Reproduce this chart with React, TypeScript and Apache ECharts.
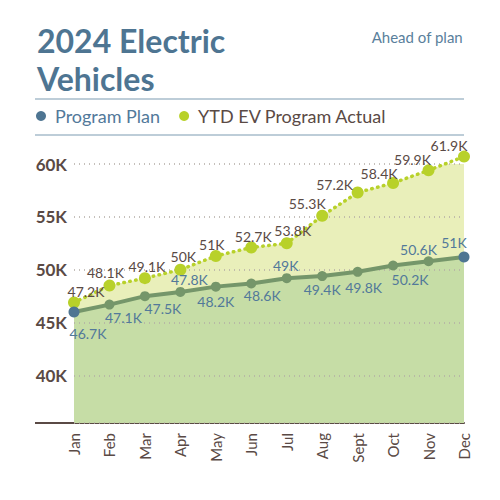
import { useEffect, useRef } from 'react';
import * as echarts from 'echarts';

// months on the x axis
const months = ['Jan', 'Feb', 'Mar', 'Apr', 'May', 'Jun', 'Jul', 'Aug', 'Sept', 'Oct', 'Nov', 'Dec'];

// values in thousands
const actualValues = [46.9, 48.5, 49.2, 50.0, 51.3, 52.1, 52.5, 55.1, 57.3, 58.2, 59.4, 60.7];
const planValues = [46.0, 46.7, 47.5, 47.9, 48.4, 48.7, 49.2, 49.4, 49.8, 50.4, 50.8, 51.2];

// the printed labels
const actualLabels = ['47.2K', '48.1K', '49.1K', '50K', '51K', '52.7K', '53.8K', '55.3K', '57.2K', '58.4K', '59.9K', '61.9K'];
const planLabels = ['46.7K', '47.1K', '47.5K', '47.8K', '48.2K', '48.6K', '49K', '49.4K', '49.8K', '50.2K', '50.6K', '51K'];

// label nudges relative to the point centre (style only)
const actualNudge = [[12, -11], [-4, -13], [2, -12], [3, -13], [-4, -11], [2, -11], [6, -13], [-15, -12], [-23, -8], [-14, -10], [-16, -11], [-15, -11]];
const planNudge = [[14, 21], [14, 13], [18, 12], [9, -12], [0, 15], [11, 12], [-1, -13], [0, 13], [6, 16], [17, 14], [-10, -12], [-10, -15]];

const FONT = 'Lato';
const BLUE = '#4e7592';
const LABEL_BLUE = '#52799a';
const BROWN = '#5a4a45';
const LIME = '#b8d12a';
const PLAN_GREEN = '#75966a';

export default function App() {
  const chartRef = useRef<HTMLDivElement>(null);

  useEffect(() => {
    if (!chartRef.current) return;
    const chart = echarts.init(chartRef.current, undefined, { renderer: 'svg' });

    const planData = planValues.map((v, i) => {
      // first and last markers are blue
      if (i === 0 || i === planValues.length - 1) {
        return { value: v, itemStyle: { color: BLUE }, symbolSize: 11 };
      }
      return v;
    });

    const option: echarts.EChartsOption = {
      animation: false,
      textStyle: { fontFamily: FONT },
      title: {
        text: '2024 Electric\nVehicles',
        left: 37,
        top: 21,
        padding: 0,
        textStyle: {
          fontFamily: FONT,
          fontSize: 32,
          fontWeight: 'bold',
          lineHeight: 38.5,
          color: BLUE,
        },
      },
      legend: {
        left: 36,
        top: 107,
        padding: 0,
        itemWidth: 10,
        itemHeight: 10,
        itemGap: 19,
        icon: 'circle',
        data: [
          { name: 'Program Plan', itemStyle: { color: BLUE }, textStyle: { color: LABEL_BLUE } },
          { name: 'YTD EV Program Actual', itemStyle: { color: LIME }, textStyle: { color: BROWN } },
        ],
        textStyle: { fontFamily: FONT, fontSize: 18, padding: [0, 0, 0, 4] },
      },
      graphic: [
        {
          type: 'text',
          right: 37,
          top: 29,
          style: { text: 'Ahead of plan', fill: '#5a7f9c', font: `15px ${FONT}` },
        },
        { type: 'line', shape: { x1: 35, y1: 99, x2: 464, y2: 99 }, style: { stroke: '#a7bccb', lineWidth: 1.5 } },
        { type: 'line', shape: { x1: 35, y1: 135, x2: 464, y2: 135 }, style: { stroke: '#a7bccb', lineWidth: 1.5 } },
        { type: 'line', shape: { x1: 35, y1: 423, x2: 75, y2: 423 }, style: { stroke: BROWN, lineWidth: 2 } },
      ],
      grid: {
        left: 74,
        right: 36,
        top: 164,
        bottom: 77,
      },
      xAxis: {
        type: 'category',
        data: months,
        boundaryGap: false,
        axisLine: { lineStyle: { color: BROWN, width: 2 } },
        axisTick: { show: false },
        axisLabel: {
          rotate: 90,
          margin: 10,
          fontFamily: FONT,
          fontSize: 15,
          color: BROWN,
        },
      },
      yAxis: {
        type: 'value',
        min: 35.5,
        max: 60,
        z: 2,
        axisLine: { show: false },
        axisTick: { show: false },
        axisLabel: {
          showMinLabel: false,
          margin: 7,
          fontFamily: FONT,
          fontSize: 17,
          fontWeight: 'bold',
          color: BROWN,
          formatter: (v: number) => `${v}K`,
        },
        splitLine: {
          lineStyle: { color: '#b3aca5', width: 1.5, type: [1, 4] },
        },
      },
      series: [
        {
          name: 'actual-area',
          type: 'line',
          data: actualValues,
          z: 1,
          showSymbol: false,
          lineStyle: { width: 0 },
          areaStyle: { color: '#e9efba', opacity: 1 },
          silent: true,
        },
        {
          name: 'plan-area',
          type: 'line',
          data: planValues,
          z: 1,
          showSymbol: false,
          lineStyle: { width: 0 },
          areaStyle: { color: '#c6dda6', opacity: 1 },
          silent: true,
        },
        {
          name: 'YTD EV Program Actual',
          type: 'line',
          data: actualValues,
          z: 3,
          clip: false,
          symbol: 'circle',
          symbolSize: 12,
          itemStyle: { color: LIME },
          lineStyle: { color: LIME, width: 3.5, type: [0.5, 5.5], cap: 'round' },
          label: {
            show: true,
            position: 'inside',
            fontFamily: FONT,
            fontSize: 14,
            color: BROWN,
            formatter: (p: any) => actualLabels[p.dataIndex],
          },
          labelLayout: (p: any) => ({
            x: p.rect.x + p.rect.width / 2 + actualNudge[p.dataIndex][0],
            y: p.rect.y + p.rect.height / 2 + actualNudge[p.dataIndex][1],
            align: 'center',
            verticalAlign: 'middle',
          }),
        },
        {
          name: 'Program Plan',
          type: 'line',
          data: planData,
          z: 4,
          clip: false,
          symbol: 'circle',
          symbolSize: 10,
          itemStyle: { color: PLAN_GREEN },
          lineStyle: { color: PLAN_GREEN, width: 4 },
          label: {
            show: true,
            position: 'inside',
            fontFamily: FONT,
            fontSize: 14,
            color: LABEL_BLUE,
            formatter: (p: any) => planLabels[p.dataIndex],
          },
          labelLayout: (p: any) => ({
            x: p.rect.x + p.rect.width / 2 + planNudge[p.dataIndex][0],
            y: p.rect.y + p.rect.height / 2 + planNudge[p.dataIndex][1],
            align: 'center',
            verticalAlign: 'middle',
          }),
        },
      ],
    };

    chart.setOption(option);

    return () => {
      chart.dispose();
    };
  }, []);

  return (
    <div
      ref={chartRef}
      style={{ position: 'absolute', left: 0, top: 0, width: 500, height: 500, background: '#fff' }}
    />
  );
}
